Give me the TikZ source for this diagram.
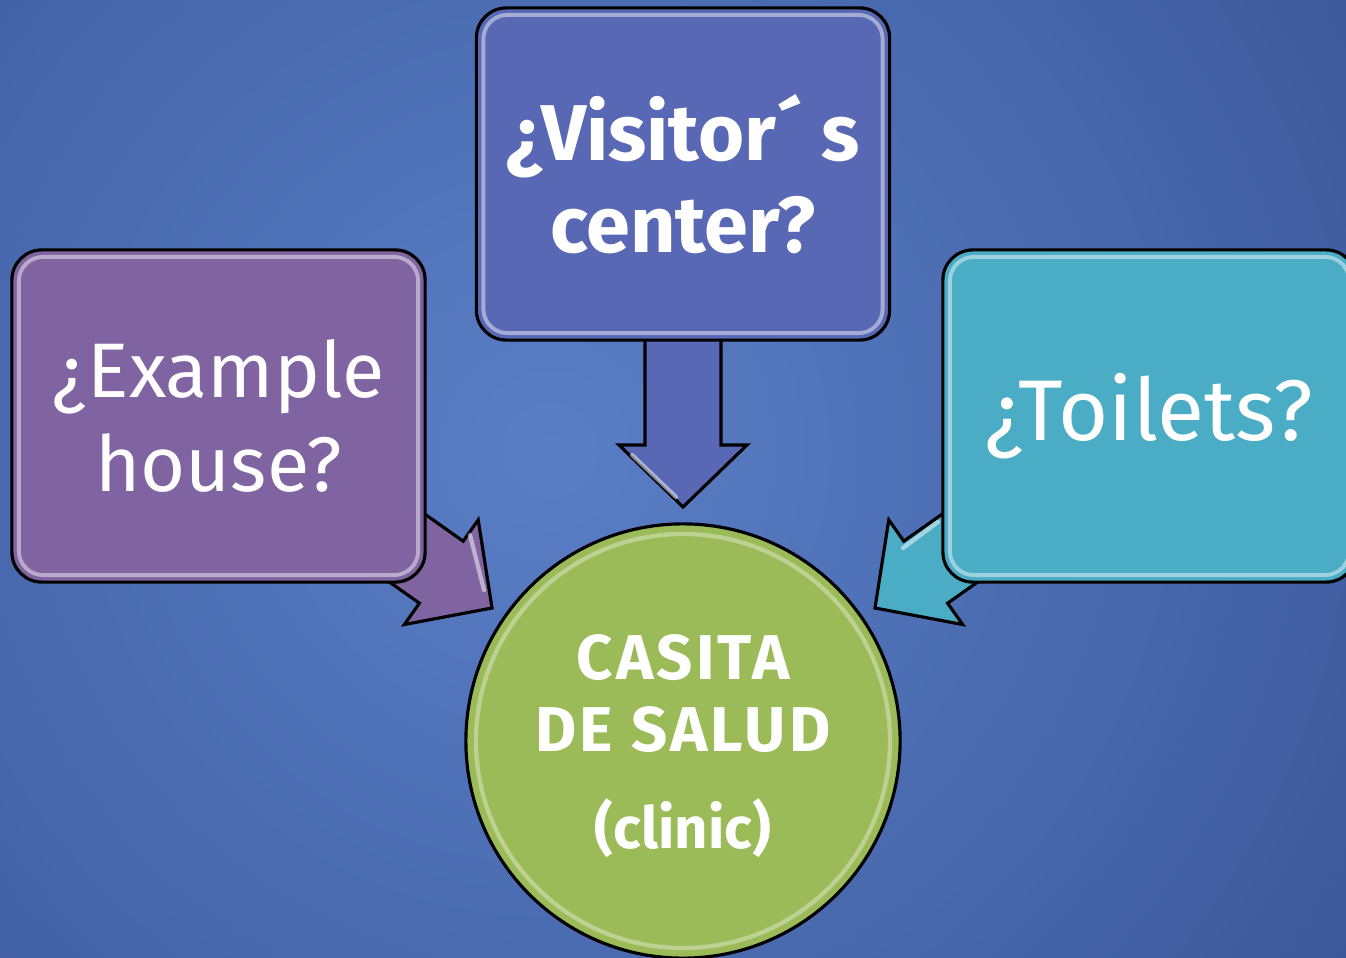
\documentclass[tikz,border=0pt]{standalone}
\usepackage{fontspec}
\setmainfont{Fira Sans}
\usetikzlibrary{calc}
\definecolor{bgin}{RGB}{90,126,198}
\definecolor{bgmid}{RGB}{70,102,170}
\definecolor{bgout}{RGB}{40,58,116}
\definecolor{purp}{RGB}{128,100,162}
\definecolor{visb}{RGB}{89,104,180}
\definecolor{cyanb}{RGB}{75,172,198}
\definecolor{grn}{RGB}{155,187,89}
\pgfdeclareradialshading{bgshade}{\pgfpoint{0bp}{0bp}}{color(0bp)=(bgin); color(20bp)=(bgmid); color(50bp)=(bgout)}
\tikzset{
  qbox/.style={draw=black, line width=0.9pt, rounded corners=0.3cm, minimum width=4.13cm,
    minimum height=3.32cm, inner sep=0pt, outer sep=0pt, text=white, align=center},
  gloss/.style={draw=white, draw opacity=0.45, line width=1.1pt, rounded corners=0.24cm},
  blockarrow/.style={draw=black, line width=0.9pt, line join=miter},
  hub/.style={circle, draw=black, line width=0.9pt, fill=grn, minimum size=4.34cm,
    inner sep=0pt},
  hubtext/.style={text=white, align=center, inner sep=0pt,
    font=\fontsize{18}{20.5}\selectfont\bfseries\addfontfeature{LetterSpace=5}},
}
\begin{document}
\begin{tikzpicture}[x=0.01cm, y=-0.01cm]
\path[use as bounding box] (0,0) rectangle (1346,958);
\clip (0,0) rectangle (1346,958);
\shade[shading=bgshade] (-250,-350) rectangle (1350,1250);

% block arrows (behind boxes)
\draw[blockarrow, fill=visb] (645,330) -- (721,330) -- (721,445) -- (747,445) -- (683,507)
   -- (619,445) -- (645,445) -- cycle;
\draw[blockarrow, fill=purp] (381.5,483.5) -- (463.2,541.2) -- (478.2,519.9) -- (492,608)
   -- (404.4,624.5) -- (419.4,603.2) -- (337.7,545.5) -- cycle;
\draw[blockarrow, fill=cyanb] (985.5,483.5) -- (903.8,541.2) -- (888.8,519.9) -- (875,608)
   -- (962.6,624.5) -- (947.6,603.2) -- (1029.3,545.5) -- cycle;
% arrow gloss
\draw[white, opacity=0.5, line width=1.2pt, line cap=round] (632,455) -- (676,497);
\draw[white, opacity=0.5, line width=1.2pt, line cap=round] (470,535) -- (484,590);
\draw[white, opacity=0.5, line width=1.2pt, line cap=round] (938,522) -- (903,548);

% boxes
\node[qbox, fill=purp, font=\fontsize{22}{26.5}\selectfont] (ex) at (218.5,416)
  {¿Example\\ house?};
\node[qbox, fill=visb, font=\fontsize{22.5}{26}\selectfont\bfseries] (vc) at (683,174)
  {¿Visitor´ s\\ center?};
\node[qbox, fill=cyanb, font=\fontsize{24.5}{27.5}\selectfont] (to) at (1149.5,416)
  {¿Toilets?};
\foreach \b in {ex,vc,to}
  \draw[gloss] ($(\b.south west)+(7,-7)$) rectangle ($(\b.north east)+(-7,7)$);

% hub
\node[hub] (hub) at (683,741) {};
\draw[white, opacity=0.35, line width=1.2pt] (hub.center) circle (207);
\node[hubtext] (hubtxt) at (683,746)
  {CASITA\\ DE SALUD\\[7pt] {\fontsize{16.5}{20}\selectfont\addfontfeature{LetterSpace=0}(clinic)}};
\end{tikzpicture}
\end{document}
